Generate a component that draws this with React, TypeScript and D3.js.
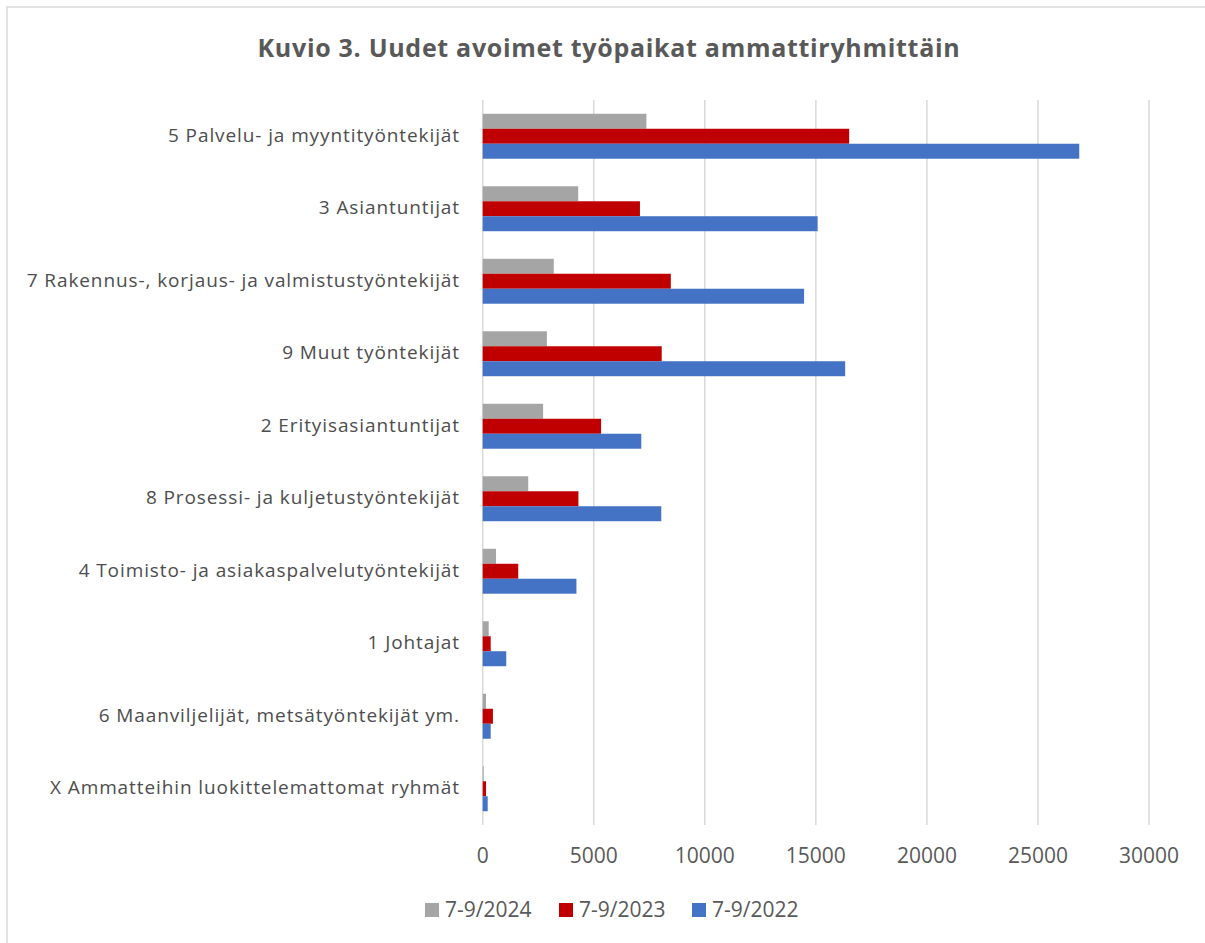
import React from "react";
import * as d3 from "d3";

const categories = [
  "5 Palvelu- ja myyntityöntekijät",
  "3 Asiantuntijat",
  "7 Rakennus-, korjaus- ja valmistustyöntekijät",
  "9 Muut työntekijät",
  "2 Erityisasiantuntijat",
  "8 Prosessi- ja kuljetustyöntekijät",
  "4 Toimisto- ja asiakaspalvelutyöntekijät",
  "1 Johtajat",
  "6 Maanviljelijät, metsätyöntekijät ym.",
  "X Ammatteihin luokittelemattomat ryhmät",
];
const seriesNames = ["7-9/2024", "7-9/2023", "7-9/2022"];
const v2024 = [7370, 4300, 3200, 2890, 2720, 2050, 600, 270, 150, 45];
const v2023 = [16500, 7080, 8470, 8060, 5330, 4310, 1600, 360, 460, 150];
const v2022 = [26860, 15080, 14470, 16320, 7140, 8040, 4220, 1060, 360, 225];
const xTicks = [0, 5000, 10000, 15000, 20000, 25000, 30000];
const colors = ["#a5a5a5", "#c00000", "#4472c4"];

const W = 1205;
const H = 943;
const FONT = "'Open Sans', 'Liberation Sans', sans-serif";

export default function App() {
  const series = [v2024, v2023, v2022];
  const x = d3.scaleLinear().domain([0, 30000]).range([482.7, 1149]);
  const y = d3.scaleBand<string>().domain(categories).range([100, 825]).paddingInner(0.38).paddingOuter(0.19);
  const inner = d3.scaleBand<string>().domain(seriesNames).range([0, y.bandwidth()]);

  const legendX = [425, 559, 692];

  return (
    <svg width={W} height={H} style={{ position: "absolute", left: 0, top: 0 }}>
      <rect x={0} y={0} width={W} height={H} fill="#ffffff" />
      <rect x={7} y={7} width={W + 20} height={H + 20} fill="none" stroke="#d9d9d9" strokeWidth={1.5} />
      <text x={609} y={57} textAnchor="middle" fontFamily={FONT} fontWeight="bold" fontSize={25} letterSpacing={0.7} fill="#595959">
        Kuvio 3. Uudet avoimet työpaikat ammattiryhmittäin
      </text>
      {xTicks.map((t) => (
        <g key={t}>
          <line x1={x(t)} x2={x(t)} y1={100} y2={825} stroke="#d9d9d9" strokeWidth={1.5} />
          <text x={x(t)} y={863} textAnchor="middle" fontFamily={FONT} fontSize={21} fill="#595959">
            {t}
          </text>
        </g>
      ))}
      {categories.map((c, i) => (
        <g key={c}>
          {series.map((s, j) => (
            <rect
              key={j}
              x={x(0)}
              y={(y(c) as number) + (inner(seriesNames[j]) as number)}
              width={x(s[i]) - x(0)}
              height={inner.bandwidth()}
              fill={colors[j]}
            />
          ))}
          <text
            x={460}
            y={(y(c) as number) + y.bandwidth() / 2 + 5.5}
            textAnchor="end"
            fontFamily={FONT}
            fontSize={19}
            letterSpacing={0.9}
            fill="#4d4d4d"
          >
            {c}
          </text>
        </g>
      ))}
      {seriesNames.map((n, j) => (
        <g key={n}>
          <rect x={legendX[j]} y={903} width={14} height={14} fill={colors[j]} />
          <text x={legendX[j] + 20} y={917} fontFamily={FONT} fontSize={21} fill="#595959">
            {n}
          </text>
        </g>
      ))}
    </svg>
  );
}
